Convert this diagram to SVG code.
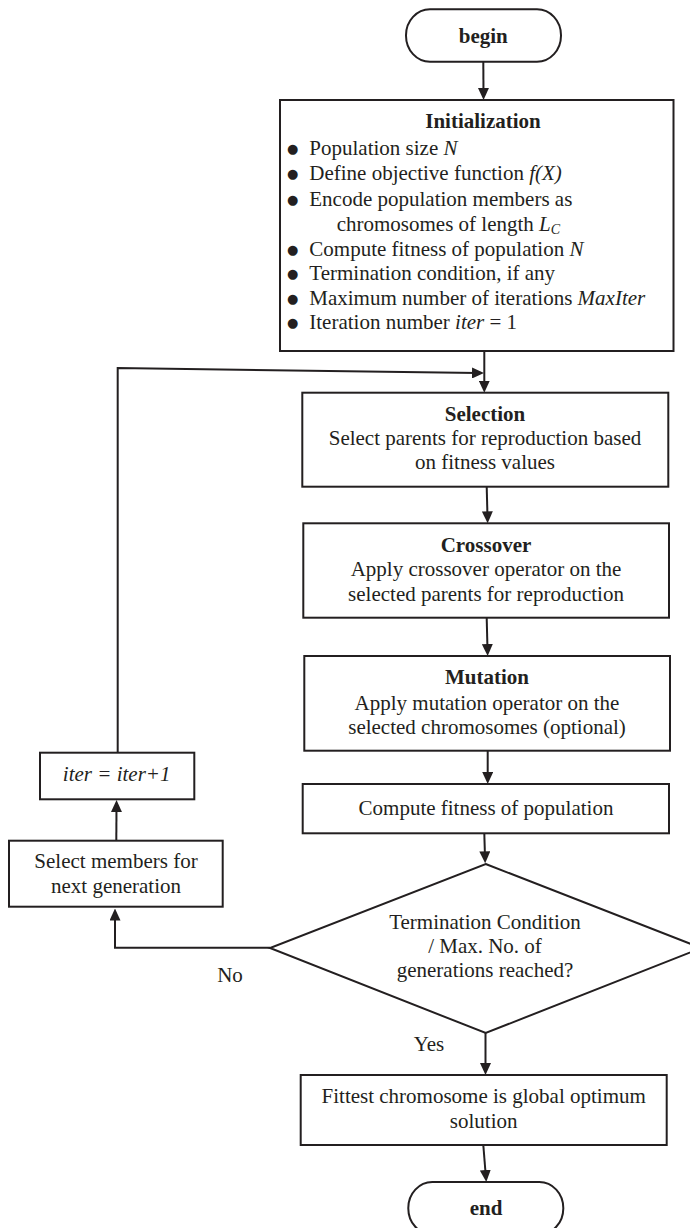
<svg xmlns="http://www.w3.org/2000/svg" width="690" height="1228" viewBox="0 0 690 1228">
  <style>
    .box { fill: #ffffff; stroke: #231f20; stroke-width: 2; }
    .conn { fill: none; stroke: #231f20; stroke-width: 2; }
    text { font-family: "Liberation Serif", "Times New Roman", serif; font-size: 21px; fill: #231f20; }
    .c { text-anchor: middle; }
    .b { font-weight: bold; }
    .i { font-style: italic; }
    .bullet { font-family: "DejaVu Sans", sans-serif; font-size: 13px; text-anchor: middle; }
  </style>
  <defs>
    <marker id="arrow" markerUnits="userSpaceOnUse" markerWidth="12" markerHeight="11" refX="6" refY="5.5" orient="auto">
      <path d="M0,0 L12,5.5 L0,11 Z" fill="#231f20"/>
    </marker>
  </defs>

  <rect width="690" height="1228" fill="#ffffff"/>

  <!-- connectors -->
  <g id="connectors">
    <line class="conn" x1="483.3" y1="61.7" x2="483.5" y2="94" marker-end="url(#arrow)"/>
    <line class="conn" x1="484.3" y1="351" x2="484.3" y2="386.7" marker-end="url(#arrow)"/>
    <path class="conn" d="M117.7,752.7 V368 L478,373" marker-end="url(#arrow)"/>
    <line class="conn" x1="486.7" y1="486.7" x2="487.5" y2="517.3" marker-end="url(#arrow)"/>
    <line class="conn" x1="486.7" y1="617.7" x2="487.5" y2="650" marker-end="url(#arrow)"/>
    <line class="conn" x1="487.7" y1="750.7" x2="487.7" y2="778" marker-end="url(#arrow)"/>
    <line class="conn" x1="484.3" y1="833.3" x2="485" y2="857.3" marker-end="url(#arrow)"/>
    <path class="conn" d="M270,947.7 H115 V914.5" marker-end="url(#arrow)"/>
    <line class="conn" x1="116.3" y1="840.7" x2="116.5" y2="806" marker-end="url(#arrow)"/>
    <line class="conn" x1="485.5" y1="1033" x2="485.5" y2="1069" marker-end="url(#arrow)"/>
    <line class="conn" x1="483.3" y1="1145" x2="485.8" y2="1176" marker-end="url(#arrow)"/>
  </g>

  <!-- start terminal -->
  <g id="begin">
    <rect class="box" x="406" y="9.3" width="155" height="52.4" rx="24" ry="26"/>
    <text class="c b" x="483.3" y="42.7">begin</text>
  </g>

  <!-- initialization -->
  <g id="initialization">
    <rect class="box" x="280" y="100" width="393.5" height="251"/>
    <text class="c b" x="483" y="128.3">Initialization</text>
    <text class="bullet" x="292.7" y="153">●</text>
    <text x="309.3" y="155">Population size <tspan class="i">N</tspan></text>
    <text class="bullet" x="292.7" y="178">●</text>
    <text x="309.3" y="180">Define objective function <tspan class="i">f(X)</tspan></text>
    <text class="bullet" x="292.7" y="203.5">●</text>
    <text x="309.3" y="205.5">Encode population members as</text>
    <text x="336.7" y="230.7">chromosomes of length <tspan class="i">L</tspan><tspan class="i" font-size="14" dy="3.5">C</tspan></text>
    <text class="bullet" x="292.7" y="253.5">●</text>
    <text x="309.3" y="255.5">Compute fitness of population <tspan class="i">N</tspan></text>
    <text class="bullet" x="292.7" y="277.5">●</text>
    <text x="309.3" y="279.5">Termination condition, if any</text>
    <text class="bullet" x="292.7" y="302.5">●</text>
    <text x="309.3" y="304.5">Maximum number of iterations <tspan class="i">MaxIter</tspan></text>
    <text class="bullet" x="292.7" y="327.3">●</text>
    <text x="309.3" y="329.3">Iteration number <tspan class="i">iter</tspan> = 1</text>
  </g>

  <!-- selection -->
  <g id="selection">
    <rect class="box" x="302.3" y="392.7" width="366" height="94"/>
    <text class="c b" x="485" y="420.7">Selection</text>
    <text class="c" x="485" y="445">Select parents for reproduction based</text>
    <text class="c" x="485" y="469.3">on fitness values</text>
  </g>

  <!-- crossover -->
  <g id="crossover">
    <rect class="box" x="303.3" y="523.3" width="365.7" height="94.4"/>
    <text class="c b" x="486" y="551.7">Crossover</text>
    <text class="c" x="486" y="576">Apply crossover operator on the</text>
    <text class="c" x="486" y="600.7">selected parents for reproduction</text>
  </g>

  <!-- mutation -->
  <g id="mutation">
    <rect class="box" x="304.3" y="656" width="365.7" height="94.7"/>
    <text class="c b" x="487" y="684.3">Mutation</text>
    <text class="c" x="487" y="710">Apply mutation operator on the</text>
    <text class="c" x="487" y="734">selected chromosomes (optional)</text>
  </g>

  <!-- fitness evaluation -->
  <g id="compute-fitness">
    <rect class="box" x="302.7" y="784" width="366.3" height="49.3"/>
    <text class="c" x="486" y="815">Compute fitness of population</text>
  </g>

  <!-- termination test -->
  <g id="termination">
    <polygon class="box" points="485.7,864 701.4,948 485.7,1033 270,948"/>
    <text class="c" x="485" y="929.3">Termination Condition</text>
    <text class="c" x="485" y="953.3">/ Max. No. of</text>
    <text class="c" x="485" y="977.3">generations reached?</text>
  </g>

  <!-- branch labels -->
  <g id="labels">
    <text class="c" x="230" y="981.7">No</text>
    <text class="c" x="429" y="1051">Yes</text>
  </g>

  <!-- loop side -->
  <g id="select-members">
    <rect class="box" x="9" y="840.7" width="213.7" height="66"/>
    <text class="c" x="116" y="868.3">Select members for</text>
    <text class="c" x="116" y="893.3">next generation</text>
  </g>

  <g id="iter-update">
    <rect class="box" x="40" y="752.7" width="154.3" height="46.6"/>
    <text class="c i" x="116.7" y="781">iter = iter+1</text>
  </g>

  <!-- result -->
  <g id="result">
    <rect class="box" x="300.7" y="1075" width="366" height="70"/>
    <text class="c" x="483.7" y="1103">Fittest chromosome is global optimum</text>
    <text class="c" x="483.7" y="1128">solution</text>
  </g>

  <!-- end terminal -->
  <g id="end">
    <rect class="box" x="408.3" y="1182" width="155" height="52.4" rx="24" ry="26"/>
    <text class="c b" x="486" y="1215">end</text>
  </g>
</svg>
